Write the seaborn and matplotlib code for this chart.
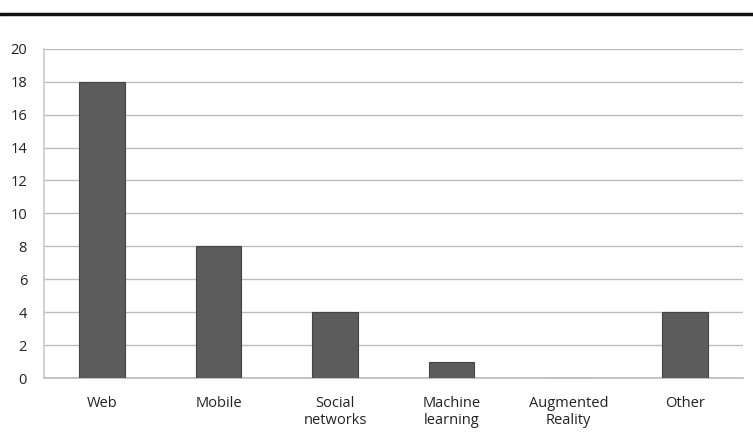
import numpy as np
import pandas as pd
import matplotlib
matplotlib.use('Agg')
import matplotlib.pyplot as plt
import seaborn as sns
from matplotlib.lines import Line2D

categories = ['Web', 'Mobile', 'Social\nnetworks', 'Machine\nlearning', 'Augmented\nReality', 'Other']
counts = [18, 8, 4, 1, 0, 4]
y_ticks = list(range(0, 21, 2))

df = pd.DataFrame({'category': categories, 'count': counts})

sns.set_theme(style='white')
plt.rcParams['font.family'] = ['Open Sans', 'DejaVu Sans']

fig = plt.figure(figsize=(7.53, 4.32), dpi=100)
ax = fig.add_axes([0.058, 0.125, 0.929, 0.762])

sns.barplot(data=df, x='category', y='count', color='#5c5c5c', width=0.39,
            saturation=1, edgecolor='#444444', linewidth=0.8, ax=ax, zorder=3)

ax.set_ylim(0, 20)
ax.set_yticks(y_ticks)
ax.set_xlim(-0.5, len(categories) - 0.5)
ax.yaxis.grid(True, color='#bdbdbd', lw=1)
ax.set_axisbelow(True)
ax.set_xlabel('')
ax.set_ylabel('')
for s in ['top', 'right']:
    ax.spines[s].set_visible(False)
ax.spines['left'].set_color('#cccccc')
ax.spines['bottom'].set_color('#bdbdbd')
ax.tick_params(axis='both', length=0, labelsize=10.5, colors='#222222')
ax.tick_params(axis='x', pad=13)
ax.tick_params(axis='y', pad=12)
for lbl in ax.get_xticklabels():
    lbl.set_linespacing(1.2)

# heavy rule at the top of the page
fig.add_artist(Line2D([0, 1], [0.968, 0.968], transform=fig.transFigure,
                      color='#111111', lw=2.5))

fig.savefig('out.png', dpi=100)
